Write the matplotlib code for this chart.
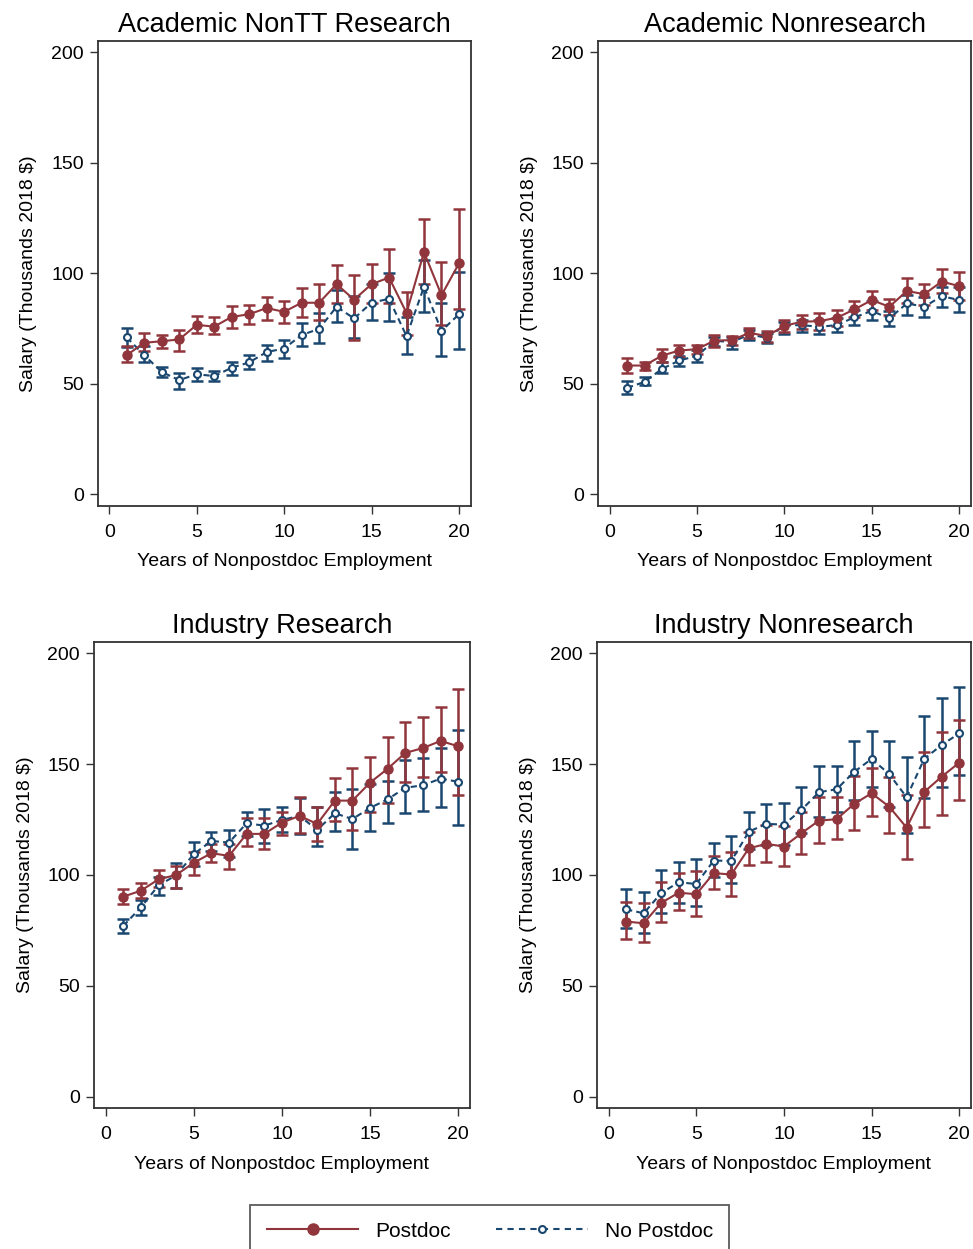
import numpy as np
import matplotlib
matplotlib.use("Agg")
import matplotlib.pyplot as plt

plt.rcParams["font.family"] = ["Liberation Sans", "DejaVu Sans"]

years = np.arange(1, 21)

# Academic NonTT Research
acnt_post = [62.9, 68.5, 69.2, 70.0, 76.6, 75.8, 80.2, 81.4, 84.2, 82.5, 86.6, 86.6, 95.0, 88.0, 95.0, 98.0, 82.0, 109.5, 90.0, 104.4]
acnt_post_lo = [59.7, 64.8, 66.0, 64.8, 72.7, 72.3, 75.4, 76.9, 79.0, 77.5, 80.0, 78.7, 86.6, 69.7, 86.3, 86.3, 72.0, 95.0, 76.5, 84.0]
acnt_post_hi = [67.0, 72.7, 72.0, 74.5, 80.8, 80.0, 85.0, 85.8, 89.0, 87.3, 93.3, 95.0, 103.6, 99.0, 104.0, 110.7, 91.5, 124.3, 105.0, 128.8]
acnt_nopd = [70.9, 62.9, 55.3, 51.6, 54.3, 53.4, 57.2, 59.6, 64.3, 65.9, 72.0, 74.8, 84.8, 79.5, 86.6, 88.4, 71.5, 93.8, 73.9, 81.4]
acnt_nopd_lo = [66.4, 59.7, 53.0, 47.6, 51.4, 51.0, 53.7, 56.7, 60.3, 61.8, 67.0, 68.5, 78.0, 70.7, 79.0, 78.4, 63.3, 82.5, 62.4, 65.6]
acnt_nopd_hi = [75.0, 67.0, 57.6, 55.0, 57.0, 55.8, 60.0, 62.8, 67.7, 69.7, 77.5, 81.8, 92.3, 89.6, 94.9, 99.9, 80.0, 106.0, 86.6, 100.6]

# Academic Nonresearch
acnr_post = [58.2, 58.2, 62.7, 65.0, 65.6, 69.5, 69.7, 73.0, 71.5, 76.2, 78.0, 78.3, 79.8, 83.6, 87.8, 84.8, 91.9, 90.5, 96.2, 94.1]
acnr_post_lo = [54.9, 56.4, 60.0, 61.9, 63.2, 66.8, 67.3, 70.5, 68.9, 73.3, 74.8, 74.5, 76.0, 80.0, 83.3, 80.9, 86.3, 85.5, 90.8, 87.8]
acnr_post_hi = [61.5, 60.0, 65.6, 67.3, 67.6, 72.0, 71.6, 75.0, 73.6, 78.9, 81.0, 81.8, 83.3, 87.2, 92.0, 88.5, 97.7, 95.2, 101.7, 100.5]
acnr_nopd = [48.1, 50.8, 56.7, 60.5, 62.6, 69.4, 68.8, 72.3, 70.7, 76.3, 76.5, 75.7, 76.5, 80.0, 82.9, 79.5, 86.3, 84.8, 89.6, 87.8]
acnr_nopd_lo = [45.4, 49.2, 54.6, 58.2, 60.0, 67.0, 65.9, 69.7, 68.3, 72.3, 73.4, 72.4, 73.2, 76.5, 78.7, 76.3, 80.9, 80.0, 84.8, 82.4]
acnr_nopd_hi = [51.1, 52.9, 59.6, 62.6, 65.2, 71.2, 70.9, 74.5, 72.7, 78.1, 79.0, 78.7, 79.6, 83.3, 87.5, 82.9, 90.0, 89.3, 93.8, 93.8]

# Industry Research
indr_post = [90.2, 92.9, 98.0, 100.0, 105.5, 109.8, 108.6, 118.5, 118.5, 123.6, 126.6, 123.0, 133.5, 133.5, 141.6, 147.9, 155.0, 157.2, 160.4, 158.0]
indr_post_lo = [86.9, 89.5, 94.5, 94.0, 100.0, 105.9, 102.6, 113.2, 111.6, 118.0, 118.8, 115.5, 124.2, 120.3, 128.4, 132.3, 142.0, 144.0, 146.5, 136.0]
indr_post_hi = [93.6, 96.2, 102.2, 104.0, 110.5, 113.8, 114.0, 125.5, 125.5, 128.5, 135.0, 130.8, 143.7, 148.0, 153.0, 162.0, 169.0, 171.0, 175.5, 184.0]
indr_nopd = [77.0, 85.4, 95.3, 99.8, 109.4, 115.3, 114.6, 123.3, 122.2, 124.8, 126.6, 120.3, 127.8, 125.2, 130.2, 134.1, 139.3, 140.4, 143.4, 142.0]
indr_nopd_lo = [74.0, 82.0, 90.8, 94.3, 104.0, 110.7, 108.0, 117.6, 114.6, 119.2, 118.5, 113.0, 119.8, 111.7, 120.0, 123.4, 127.8, 128.8, 130.8, 122.4]
indr_nopd_hi = [80.0, 88.7, 99.2, 105.5, 115.0, 119.4, 120.3, 128.4, 129.7, 130.8, 134.5, 130.8, 137.3, 138.7, 141.0, 142.5, 151.8, 152.8, 157.0, 165.3]

# Industry Nonresearch
indn_post = [79.0, 78.2, 87.4, 92.0, 91.3, 100.8, 100.2, 112.0, 114.0, 112.8, 118.8, 124.5, 125.1, 132.0, 136.8, 130.8, 121.3, 137.4, 144.3, 150.6]
indn_post_lo = [71.3, 69.8, 79.0, 84.2, 81.7, 93.6, 90.5, 104.5, 105.7, 104.2, 109.3, 114.3, 116.0, 120.3, 126.6, 119.0, 107.0, 121.8, 127.0, 133.8]
indn_post_hi = [87.8, 87.2, 97.0, 100.8, 101.8, 108.6, 110.5, 119.5, 122.5, 122.2, 128.5, 135.0, 135.0, 144.6, 148.0, 144.0, 136.0, 155.5, 164.3, 169.8]
indn_nopd = [84.5, 82.7, 91.8, 96.7, 95.9, 106.5, 106.3, 119.5, 123.0, 122.7, 129.3, 137.3, 138.6, 146.4, 152.3, 145.5, 135.0, 152.3, 158.6, 163.8]
indn_nopd_lo = [76.1, 73.7, 83.0, 87.5, 86.0, 99.0, 96.3, 111.6, 113.5, 113.5, 119.0, 126.0, 128.5, 133.8, 139.8, 130.8, 118.8, 134.7, 139.5, 145.0]
indn_nopd_hi = [93.8, 92.5, 102.0, 105.9, 107.0, 114.6, 117.6, 128.3, 132.0, 132.3, 139.8, 149.2, 149.0, 160.5, 165.0, 160.4, 153.0, 171.6, 179.9, 184.8]

titles = ["Academic NonTT Research", "Academic Nonresearch", "Industry Research", "Industry Nonresearch"]
panels = [
    (acnt_post, acnt_post_lo, acnt_post_hi, acnt_nopd, acnt_nopd_lo, acnt_nopd_hi),
    (acnr_post, acnr_post_lo, acnr_post_hi, acnr_nopd, acnr_nopd_lo, acnr_nopd_hi),
    (indr_post, indr_post_lo, indr_post_hi, indr_nopd, indr_nopd_lo, indr_nopd_hi),
    (indn_post, indn_post_lo, indn_post_hi, indn_nopd, indn_nopd_lo, indn_nopd_hi),
]

RED = "#90353b"
BLUE = "#1a476f"
FRAME = "#333333"

W, H = 973, 1249
fig = plt.figure(figsize=(W / 100, H / 100), dpi=100)

# axes boxes in pixels: left, top, right, bottom
boxes = [
    (97.7, 41, 470.7, 505.7),
    (598, 41, 971, 505.7),
    (94, 642, 470, 1108.3),
    (597, 642, 971, 1108.3),
]

for i, (title, data) in enumerate(zip(titles, panels)):
    l, t, r, b = boxes[i]
    ax = fig.add_axes([l / W, 1 - b / H, (r - l) / W, (b - t) / H])
    post, post_lo, post_hi, nopd, nopd_lo, nopd_hi = [np.array(d) for d in data]

    # No postdoc
    ax.errorbar(years, nopd, yerr=[nopd - nopd_lo, nopd_hi - nopd], fmt="none",
                ecolor=BLUE, elinewidth=1.8, capsize=4, capthick=1.8, zorder=2)
    # Postdoc
    ax.errorbar(years, post, yerr=[post - post_lo, post_hi - post], fmt="none",
                ecolor=RED, elinewidth=1.8, capsize=4, capthick=1.8, zorder=2)
    ax.plot(years, nopd, color=BLUE, lw=1.5, dashes=(3, 2), marker="o",
            markersize=5, markerfacecolor="white", markeredgecolor=BLUE,
            markeredgewidth=1.5, zorder=3)
    ax.plot(years, post, color=RED, lw=1.5, marker="o", markersize=6.5,
            markerfacecolor=RED, markeredgecolor=RED, zorder=4)

    ax.set_xlim(-0.66, 20.67)
    ax.set_ylim(-5.2, 205)
    ax.set_xticks([0, 5, 10, 15, 20])
    ax.set_yticks([0, 50, 100, 150, 200])
    for sp in ax.spines.values():
        sp.set_color(FRAME)
        sp.set_linewidth(1.3)
    ax.tick_params(direction="out", length=6, width=1, color=FRAME,
                   labelsize=14, pad=4)
    ax.tick_params(axis="x", pad=7)
    ax.set_title(title, fontsize=19.5, pad=6.5)
    ax.set_xlabel("Years of Nonpostdoc Employment", fontsize=14, labelpad=9)
    ax.set_ylabel("Salary (Thousands 2018 $)", fontsize=14, labelpad=10)

h_post = plt.Line2D([], [], color=RED, lw=1.5, marker="o", markersize=8,
                    markerfacecolor=RED)
h_nopd = plt.Line2D([], [], color=BLUE, lw=1.5, dashes=(3, 2.5), marker="o",
                    markersize=5, markerfacecolor="white", markeredgewidth=1.5)
leg = fig.legend([h_post, h_nopd], ["Postdoc", "No Postdoc"], ncol=2,
                 loc="upper left", bbox_to_anchor=(250 / W, 1 - 1205 / H),
                 fontsize=15, handlelength=4.4, handletextpad=0.8,
                 columnspacing=2.2, frameon=True, fancybox=False,
                 borderpad=0.8, borderaxespad=0)
leg.get_frame().set_edgecolor(FRAME)
leg.get_frame().set_linewidth(1.3)

fig.savefig("out.png", dpi=100)
